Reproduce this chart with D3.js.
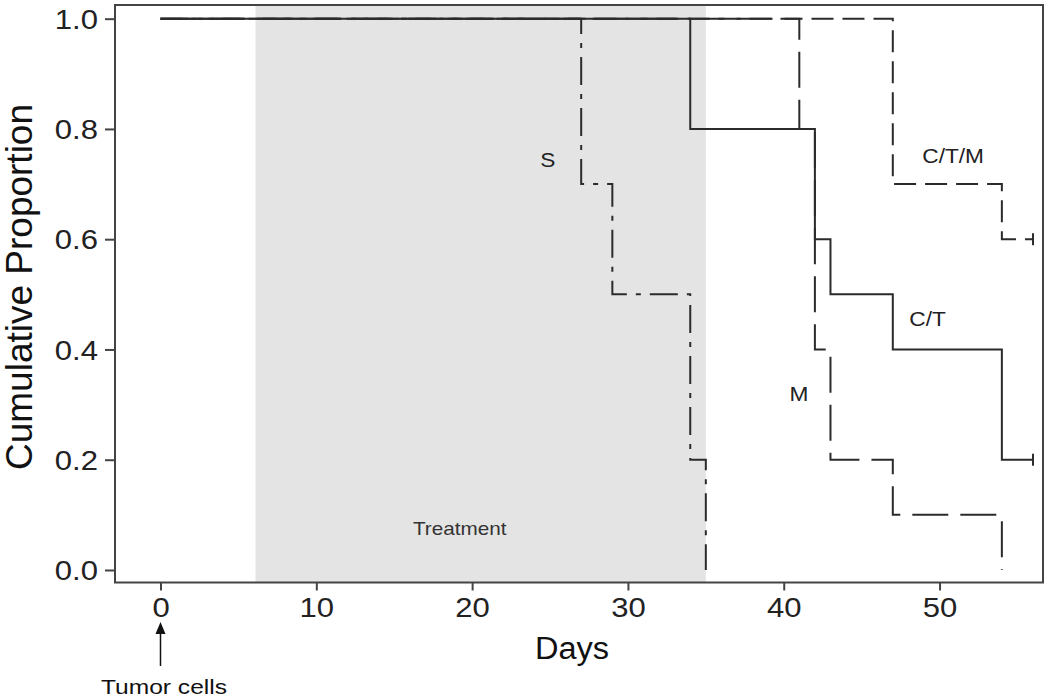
<!DOCTYPE html>
<html>
<head>
<meta charset="utf-8">
<script src="https://cdn.jsdelivr.net/npm/d3@7"></script>
<style>
  html, body { margin: 0; padding: 0; background: #fff; }
  svg { display: block; font-family: "Liberation Sans", Arial, Helvetica, sans-serif; }
</style>
</head>
<body>
<svg id="chart" width="1050" height="698"></svg>
<script>
// ---- data ----
const xTicks = [0, 10, 20, 30, 40, 50];
const yTicks = [0.0, 0.2, 0.4, 0.6, 0.8, 1.0];

const ctDays  = [0, 34, 42, 43, 47, 54, 56];
const ctSurv  = [1.0, 0.8, 0.6, 0.5, 0.4, 0.2, 0.2];
const sDays   = [0, 27, 29, 34, 35];
const sSurv   = [1.0, 0.7, 0.5, 0.2, 0.0];
const mDays   = [0, 41, 42, 43, 47, 54];
const mSurv   = [1.0, 0.8, 0.4, 0.2, 0.1, 0.0];
const ctmDays = [0, 47, 54, 56];
const ctmSurv = [1.0, 0.7, 0.6, 0.6];

const censorDays = [56, 56];
const censorSurv = [0.2, 0.6];

const treatmentPeriod = [6.1, 35];

const curveLabels = ["S", "C/T/M", "C/T", "M"];
const labelDays   = [24.85, 50.87, 49.23, 40.98];
const labelSurv   = [0.731, 0.738, 0.442, 0.306];

// ---- layout ----
const svg = d3.select("#chart");
const pLeft = 115, pRight = 1043, pTop = 5, pBottom = 582.5;
const SX = 1.15; // horizontal glyph stretch seen in the reference

const x = d3.scaleLinear().domain([-2.92, 56.64]).range([pLeft, pRight]);
const y = d3.scaleLinear().domain([-0.0227, 1.0248]).range([pBottom, pTop]);

const ink = "#2b2b2b";

function stretchedText(cx, cy, str, size, fill, anchor, sx) {
  return svg.append("text")
    .attr("transform", `translate(${cx},${cy}) scale(${sx},1)`)
    .attr("text-anchor", anchor || "middle")
    .attr("font-size", size).attr("fill", fill)
    .text(str);
}

// treatment shading
svg.append("rect")
  .attr("x", x(treatmentPeriod[0]))
  .attr("y", pTop + 1)
  .attr("width", x(treatmentPeriod[1]) - x(treatmentPeriod[0]))
  .attr("height", pBottom - pTop - 1)
  .attr("fill", "#e4e4e4");

stretchedText(x(19.2), y(0.063), "Treatment", 18, "#333", "middle", SX);

// curves
const line = d3.line()
  .x(d => x(d[0])).y(d => y(d[1]))
  .curve(d3.curveStepAfter);

const series = [
  { days: ctDays,  surv: ctSurv,  dash: null },
  { days: sDays,   surv: sSurv,   dash: "28,9,5,9" },
  { days: mDays,   surv: mSurv,   dash: "36,12" },
  { days: ctmDays, surv: ctmSurv, dash: "22,9" }
];

series.forEach(s => {
  const pts = s.days.map((d, i) => [d, s.surv[i]]);
  svg.append("path")
    .attr("d", line(pts))
    .attr("fill", "none")
    .attr("stroke", ink)
    .attr("stroke-width", 2)
    .attr("stroke-dasharray", s.dash);
});

// censor marks
censorDays.forEach((d, i) => {
  svg.append("line")
    .attr("x1", x(d)).attr("x2", x(d))
    .attr("y1", y(censorSurv[i]) - 6).attr("y2", y(censorSurv[i]) + 6)
    .attr("stroke", ink).attr("stroke-width", 2);
});

// curve labels
curveLabels.forEach((t, i) => {
  stretchedText(x(labelDays[i]), y(labelSurv[i]), t, 21, "#222", "middle", 1.08);
});

// box
svg.append("rect")
  .attr("x", pLeft).attr("y", pTop)
  .attr("width", pRight - pLeft).attr("height", pBottom - pTop)
  .attr("fill", "none").attr("stroke", "#444").attr("stroke-width", 2);

// axes
const xAxis = svg.append("g")
  .attr("transform", `translate(0,${pBottom})`)
  .call(d3.axisBottom(x).tickValues(xTicks).tickSize(8).tickPadding(6).tickFormat(d3.format("d")));
const yAxis = svg.append("g")
  .attr("transform", `translate(${pLeft},0)`)
  .call(d3.axisLeft(y).tickValues(yTicks).tickSize(10).tickPadding(6).tickFormat(d3.format(".1f")));

[xAxis, yAxis].forEach(g => {
  g.select(".domain").remove();
  g.selectAll(".tick line").attr("stroke", "#444").attr("stroke-width", 2);
  g.selectAll(".tick text").attr("font-size", 27).attr("fill", "#222")
    .attr("font-family", "'Liberation Sans', Arial, sans-serif");
});
xAxis.selectAll(".tick text")
  .attr("y", null).attr("dy", "0.71em")
  .attr("transform", `translate(0,15) scale(${SX},1)`);
yAxis.selectAll(".tick text")
  .attr("x", null).attr("dy", "0.36em")
  .attr("transform", `translate(-17,0) scale(${SX},1)`);

// axis titles
stretchedText(572, 659, "Days", 31, "#111", "middle", 1.05);

svg.append("text")
  .attr("transform", `translate(32,287) rotate(-90)`)
  .attr("text-anchor", "middle").attr("font-size", 37).attr("fill", "#111")
  .text("Cumulative Proportion");

// tumor cells arrow
const ax = x(0);
svg.append("line")
  .attr("x1", ax).attr("x2", ax).attr("y1", 666).attr("y2", 630)
  .attr("stroke", "#111").attr("stroke-width", 1.5);
svg.append("path")
  .attr("d", `M${ax},622 L${ax - 5},634 L${ax + 5},634 Z`)
  .attr("fill", "#111");
stretchedText(164, 694, "Tumor cells", 21, "#111", "middle", 1.17);
</script>
</body>
</html>
